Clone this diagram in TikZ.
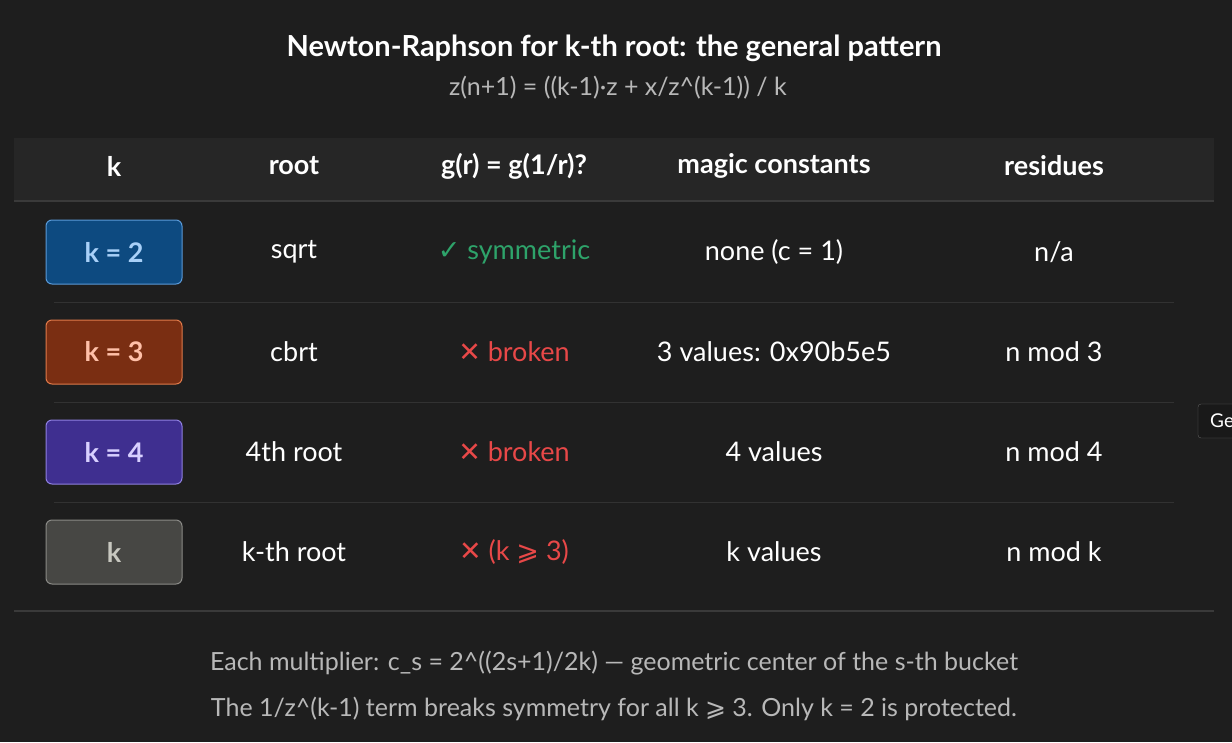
\documentclass[tikz,border=0pt]{standalone}
\usepackage{fontspec}
\setmainfont{Lato}
\newfontfamily\symfont{DejaVu Sans}
\usetikzlibrary{positioning}
\definecolor{bgc}{HTML}{1E1E1E}
\definecolor{headc}{HTML}{262626}
\definecolor{rulec}{HTML}{3A3A3A}
\definecolor{subc}{HTML}{B8B8B8}
\definecolor{okc}{HTML}{2EA36A}
\definecolor{badc}{HTML}{E84848}
\definecolor{bluef}{HTML}{0D4A80}\definecolor{blued}{HTML}{5A9AD8}\definecolor{bluet}{HTML}{A8D0F8}
\definecolor{orf}{HTML}{7A2E12}\definecolor{ord}{HTML}{E07A4A}\definecolor{ort}{HTML}{FFC0A8}
\definecolor{puf}{HTML}{3F2F90}\definecolor{pud}{HTML}{8F80E0}\definecolor{put}{HTML}{D8D0FF}
\definecolor{grf}{HTML}{474744}\definecolor{grd}{HTML}{8A8A86}\definecolor{grt}{HTML}{C8C8C0}
\tikzset{
  cell/.style={text=white, font=\fontsize{27}{32}\selectfont},
  headcell/.style={text=white, font=\fontsize{27}{32}\selectfont\bfseries},
  kbadge/.style={rounded corners=6pt, line width=1pt,
    minimum width=136pt, minimum height=64pt, font=\fontsize{27}{32}\selectfont\bfseries},
  note/.style={text=subc, font=\fontsize{25}{30}\selectfont}
}
\begin{document}
\begin{tikzpicture}[x=1pt,y=-1pt]
\fill[bgc] (0,0) rectangle (1232,742);
\useasboundingbox (0,0) rectangle (1232,742);
% title
\node (title) at (614,48) [text=white, font=\fontsize{29}{34}\selectfont\bfseries] {Newton-Raphson for k-th root: the general pattern};
\node (formula) at (618,88) [note] {z(n+1) = ((k-1)·z + x/z\textasciicircum(k-1)) / k};
% header
\fill[headc] (14,138) rectangle (1214,200);
\draw[rulec, line width=1.2pt] (14,201) -- (1214,201);
\node (hk) at (114,166) [headcell] {k};
\node (hroot) at (294,166) [headcell] {root};
\node (hsym) at (514,166) [headcell] {g(r) = g(1/r)?};
\node (hmagic) at (774,166) [headcell] {magic constants};
\node (hres) at (1054,166) [headcell] {residues};
% rows
\foreach \y in {302,402,502}
  \draw[rulec!70!bgc, line width=0.8pt] (54,\y) -- (1174,\y);
\draw[rulec, line width=1.2pt] (14,611) -- (1214,611);
\node (b2) at (114,252) [kbadge, fill=bluef, draw=blued, text=bluet] {k = 2};
\node (b3) at (114,352) [kbadge, fill=orf, draw=ord, text=ort] {k = 3};
\node (b4) at (114,452) [kbadge, fill=puf, draw=pud, text=put] {k = 4};
\node (bk) at (114,552) [kbadge, fill=grf, draw=grd, text=grt] {k};
\node (r2) at (294,252) [cell] {sqrt};
\node (r3) at (294,352) [cell] {cbrt};
\node (r4) at (294,452) [cell] {4th root};
\node (rk) at (294,552) [cell] {k-th root};
\node (s2) at (514,252) [cell, text=okc] {{\symfont ✓} symmetric};
\node (s3) at (514,352) [cell, text=badc] {{\symfont ✕} broken};
\node (s4) at (514,452) [cell, text=badc] {{\symfont ✕} broken};
\node (sk) at (514,552) [cell, text=badc] {{\symfont ✕} (k {\symfont ⩾} 3)};
\node (m2) at (774,252) [cell] {none (c = 1)};
\node (m3) at (774,352) [cell] {3 values: 0x90b5e5};
\node (m4) at (774,452) [cell] {4 values};
\node (mk) at (774,552) [cell] {k values};
\node (e2) at (1054,252) [cell] {n/a};
\node (e3) at (1054,352) [cell] {n mod 3};
\node (e4) at (1054,452) [cell] {n mod 4};
\node (ek) at (1054,552) [cell] {n mod k};
% footer
\node (foot1) at (614,663) [note] {Each multiplier: c\_s = 2\textasciicircum((2s+1)/2k) — geometric center of the s-th bucket};
\node (foot2) at (614,709) [note] {The 1/z\textasciicircum(k-1) term breaks symmetry for all k {\symfont ⩾} 3. Only k = 2 is protected.};
% clipped tooltip
\begin{scope}
\clip (1190,400) rectangle (1232,442);
\draw[rulec!80!white, fill=black!90, rounded corners=3pt] (1198,404) rectangle (1290,438);
\node (tip) at (1198,421) [anchor=west, text=white, font=\fontsize{19}{22}\selectfont, inner sep=0pt, xshift=12pt] {Ge};
\end{scope}
\end{tikzpicture}
\end{document}
